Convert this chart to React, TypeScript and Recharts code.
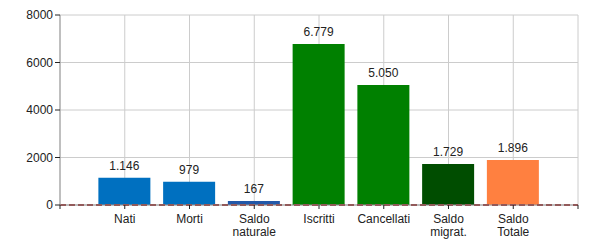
import * as React from "react";
import {
  BarChart,
  Bar,
  XAxis,
  YAxis,
  CartesianGrid,
  ReferenceLine,
  LabelList,
  Cell,
} from "recharts";

const categories = ["Nati", "Morti", "Saldo\nnaturale", "Iscritti", "Cancellati", "Saldo\nmigrat.", "Saldo\nTotale"];
const values = [1146, 979, 167, 6779, 5050, 1729, 1896];
const colors = ["#0070C0", "#0070C0", "#2358A8", "#008000", "#008000", "#004D00", "#FF8040"];
const yTicks = [0, 2000, 4000, 6000, 8000];
const xTicks = [0, 1, 2, 3, 4, 5, 6, 7, 8];

const data = categories.map((name, i) => ({ pos: i + 1, name, value: values[i] }));

const FONT = "'Liberation Sans', Arial, sans-serif";

function fmt(v: unknown): string {
  if (typeof v !== "number") return "";
  return String(v).replace(/\B(?=(\d{3})+(?!\d))/g, ".");
}

function XTick({ x, y, payload }: any) {
  const label = categories[payload.value - 1];
  if (!label) return null;
  const lines = label.split("\n");
  return (
    <text x={x} y={y} textAnchor="middle" fontSize={12} fontFamily={FONT} fill="#222">
      {lines.map((l: string, i: number) => (
        <tspan key={i} x={x} dy={i === 0 ? 12 : 13}>
          {l}
        </tspan>
      ))}
    </text>
  );
}

export default function App() {
  return (
    <div style={{ position: "absolute", left: 0, top: 0, width: 600, height: 250, background: "#fff" }}>
      <BarChart width={600} height={250} data={data} margin={{ top: 15, right: 22, left: 0, bottom: 0 }}>
        <CartesianGrid stroke="#cccccc" />
        <XAxis
          type="number"
          dataKey="pos"
          domain={[0, 8]}
          ticks={xTicks}
          interval={0}
          height={45}
          tickSize={4}
          tickLine={{ stroke: "#222" }}
          axisLine={{ stroke: "#999" }}
          tick={<XTick />}
        />
        <YAxis
          domain={[0, 8000]}
          ticks={yTicks}
          width={60}
          tickSize={5}
          tickLine={{ stroke: "#222" }}
          axisLine={{ stroke: "#999" }}
          tick={{ fontSize: 12, fontFamily: FONT, fill: "#222" }}
        />
        <Bar dataKey="value" barSize={52} isAnimationActive={false}>
          {data.map((d, i) => (
            <Cell key={d.name} fill={colors[i]} />
          ))}
          <LabelList
            dataKey="value"
            position="top"
            offset={8}
            formatter={fmt}
            style={{ fontSize: 12, fontFamily: FONT, fill: "#222" }}
          />
        </Bar>
        <ReferenceLine y={0} stroke="#8B1A1A" strokeWidth={2} strokeDasharray="6 3" />
      </BarChart>
    </div>
  );
}
